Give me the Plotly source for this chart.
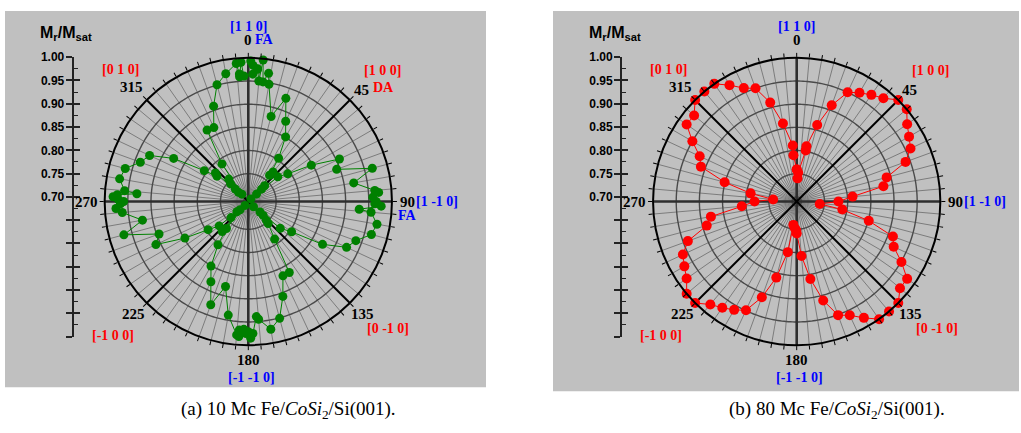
import math
import plotly.graph_objects as go

W, H = 1021, 433

# Remanence ratio Mr/Msat versus in-plane field angle (degrees, clockwise from [1 1 0])
# 10 monolayer Fe film
theta_10mc = [1, 2, 2, 4, 4, 5, 6, 7, 9, 10, 15, 20, 25, 30, 35, 39, 40, 45, 46, 47, 48, 50,
              55, 60, 65, 70, 75, 80, 85, 86, 88, 90, 91, 92, 94, 95, 100, 105, 110, 115, 120,
              125, 130, 132, 133, 135, 136, 138, 145, 150, 155, 160, 165, 170, 175, 176, 178,
              179, 180, 181, 182, 184, 184, 185, 190, 195, 200, 205, 210, 215, 219, 220, 221,
              225, 227, 228, 230, 235, 240, 245, 250, 255, 260, 265, 267, 269, 270, 271, 272,
              273, 274, 275, 280, 285, 290, 295, 300, 305, 309, 311, 313, 314, 315, 319, 319,
              325, 330, 335, 340, 345, 350, 355, 356, 356, 357, 358]
mr_10mc = [0.993, 0.984, 0.965, 0.977, 0.976, 0.951, 0.997, 0.950, 0.970, 0.947, 0.880, 0.927,
           0.881, 0.851, 0.804, 0.763, 0.773, 0.698, 0.739, 0.729, 0.714, 0.773, 0.794, 0.847,
           0.907, 0.893, 0.967, 0.921, 0.964, 0.972, 0.959, 0.966, 0.963, 0.977, 0.930, 0.956,
           0.972, 0.965, 0.937, 0.924, 0.875, 0.804, 0.780, 0.724, 0.734, 0.706, 0.746, 0.754,
           0.789, 0.867, 0.867, 0.908, 0.951, 0.970, 0.945, 0.939, 0.975, 0.985, 0.971, 0.975,
           0.966, 0.968, 0.982, 0.979, 0.939, 0.880, 0.927, 0.881, 0.851, 0.804, 0.765, 0.701,
           0.776, 0.715, 0.741, 0.723, 0.772, 0.796, 0.848, 0.910, 0.895, 0.968, 0.922, 0.963,
           0.976, 0.966, 0.959, 0.971, 0.982, 0.973, 0.931, 0.958, 0.972, 0.965, 0.938, 0.925,
           0.876, 0.806, 0.777, 0.784, 0.719, 0.729, 0.744, 0.754, 0.711, 0.789, 0.868, 0.866,
           0.909, 0.951, 0.970, 0.989, 0.966, 0.960, 0.991, 0.961]

# 80 monolayer Fe film
theta_80mc = [0, 2, 3, 10, 10, 15, 20, 25, 30, 35, 40, 45, 50, 55, 60, 65, 70, 75, 80, 85, 90,
              96, 100, 105, 110, 115, 120, 125, 130, 135, 140, 145, 150, 155, 160, 165, 170,
              175, 180, 181, 184, 188, 190, 195, 200, 205, 210, 215, 220, 225, 230, 235, 240,
              245, 250, 255, 260, 265, 270, 275, 280, 285, 290, 295, 300, 305, 310, 315, 320,
              325, 330, 335, 340, 345, 350, 356, 356, 360]
mr_80mc = [0.759, 0.740, 0.752, 0.802, 0.811, 0.861, 0.911, 0.950, 0.961, 0.971, 0.981, 1.000,
           1.000, 0.981, 0.970, 0.961, 0.940, 0.891, 0.880, 0.811, 0.780, 0.740, 0.790, 0.851,
           0.911, 0.921, 0.951, 0.981, 0.981, 1.000, 1.000, 1.000, 0.980, 0.961, 0.951, 0.911,
           0.860, 0.808, 0.759, 0.752, 0.748, 0.741, 0.801, 0.860, 0.910, 0.949, 0.960, 0.970,
           0.980, 1.000, 1.000, 0.980, 0.970, 0.961, 0.940, 0.891, 0.878, 0.809, 0.781, 0.741,
           0.791, 0.851, 0.910, 0.921, 0.950, 0.980, 0.979, 1.000, 1.000, 1.000, 0.980, 0.960,
           0.950, 0.911, 0.861, 0.811, 0.790, 0.759]

angle_labels = [0, 45, 90, 135, 180, 225, 270, 315]
radial_circles = [0.70, 0.75, 0.80, 0.85, 0.90, 0.95]
scale_ticks = [0.40, 0.45, 0.50, 0.55, 0.60, 0.65, 0.70, 0.75, 0.80, 0.85, 0.90, 0.95, 1.00]
scale_labels = [0.70, 0.75, 0.80, 0.85, 0.90, 0.95, 1.00]

captions = ["(a) 10 Mc Fe/<i>CoSi</i><sub>2</sub>/Si(001).",
            "(b) 80 Mc Fe/<i>CoSi</i><sub>2</sub>/Si(001)."]

# ---- geometry (pixels) ----
R_MIN, R_MAX = 0.69, 1.00
RAD = 146.0
CENTERS = [(248.3, 197.7), (796.7, 197.7)]
PANELS = [(5, 4, 486, 386.5), (553, 4, 1019, 390.5)]
SCALE_DX = -175.6            # scale bar position relative to polar centre
SCALE_TOP, SCALE_BOT = 51.0, 335.0

GRAY = "#c0c0c0"
BLUE = "#0000ff"
RED = "#ff0000"
SERIF = "Liberation Serif"
SANS = "Liberation Sans"


def paper(x, y):
    return x / W, 1 - y / H


fig = go.Figure()
shapes, annotations = [], []

series = [(theta_10mc, mr_10mc, "#008000", 9), (theta_80mc, mr_80mc, RED, 10)]
axis_ids = [("y", "y2", "y3"), ("y4", "y5", "y6")]
ring_theta = list(range(0, 361, 1))

for i, (cx, cy) in enumerate(CENTERS):
    pname = "polar" if i == 0 else "polar2"
    x0, y0, x1, y1 = PANELS[i]
    shapes.append(dict(type="rect", xref="paper", yref="paper", layer="below",
                       x0=x0 / W, x1=x1 / W, y0=1 - y1 / H, y1=1 - y0 / H,
                       fillcolor=GRAY, line=dict(width=0)))

    fig.update_layout(**{pname: dict(
        domain=dict(x=[(cx - RAD) / W, (cx + RAD) / W],
                    y=[1 - (cy + RAD) / H, 1 - (cy - RAD) / H]),
        bgcolor="rgba(0,0,0,0)",
        angularaxis=dict(rotation=90, direction="clockwise",
                         tickmode="array", tickvals=list(range(0, 360, 5)),
                         showticklabels=False, ticks="outside", ticklen=4,
                         tickcolor="black", tickwidth=1,
                         showline=True, linecolor="black", linewidth=2,
                         gridcolor="#7c7c7c", gridwidth=1),
        radialaxis=dict(range=[R_MIN, R_MAX], showgrid=False, showticklabels=False,
                        ticks="", showline=False),
    )})

    # concentric Mr/Msat circles
    ring_r, ring_t = [], []
    for v in radial_circles:
        ring_r += [v] * len(ring_theta) + [None]
        ring_t += ring_theta + [None]
    fig.add_trace(go.Scatterpolar(r=ring_r, theta=ring_t, mode="lines", subplot=pname,
                                  line=dict(color="#4a4a4a", width=1.4),
                                  hoverinfo="skip", showlegend=False))

    # principal axes ([1 1 0] family) and diagonals ([1 0 0] family)
    main_r, main_t, diag_r, diag_t = [], [], [], []
    for a in angle_labels:
        if a % 90 == 0:
            main_r += [R_MIN, R_MAX, None]
            main_t += [a, a, None]
        else:
            diag_r += [R_MIN, R_MAX, None]
            diag_t += [a, a, None]
    fig.add_trace(go.Scatterpolar(r=main_r, theta=main_t, mode="lines", subplot=pname,
                                  line=dict(color="#2e2e2e", width=2.6),
                                  hoverinfo="skip", showlegend=False))
    fig.add_trace(go.Scatterpolar(r=diag_r, theta=diag_t, mode="lines", subplot=pname,
                                  line=dict(color="black", width=2),
                                  hoverinfo="skip", showlegend=False))

    th, rv, col, ms = series[i]
    fig.add_trace(go.Scatterpolar(r=rv, theta=th, mode="lines+markers", subplot=pname,
                                  line=dict(color=col, width=1),
                                  marker=dict(color=col, size=ms),
                                  cliponaxis=False, showlegend=False))

    # angle labels
    label_dist = {0: 164.5, 45: 160, 90: 159, 135: 161.5, 180: 160.6, 225: 162, 270: 162, 315: 164.5}
    for a in angle_labels:
        d = label_dist[a]
        ax = cx + d * math.sin(math.radians(a))
        ay = cy - d * math.cos(math.radians(a))
        px, py = paper(ax, ay)
        annotations.append(dict(x=px, y=py, xref="paper", yref="paper", showarrow=False,
                                text=f"<b>{a}</b>", xanchor="center", yanchor="middle",
                                font=dict(family=SERIF, size=15, color="black")))

    # crystallographic directions
    directions = [("[1 1 0]", BLUE, 0, -178), ("[1 0 0]", RED, 134, -133),
                  ("[1 -1 0]", BLUE, 188.5, 0.5), ("[0 -1 0]", RED, 140, 129.5),
                  ("[-1 -1 0]", BLUE, 3, 178.5), ("[-1 0 0]", RED, -135.3, 136),
                  ("[0 1 0]", RED, -128, -134.5)]
    if i == 0:
        directions += [("FA", BLUE, 16, -164.7), ("DA", RED, 135, -116), ("FA", BLUE, 159, 14.5)]
    for txt, col, dx, dy in directions:
        px, py = paper(cx + dx, cy + dy)
        annotations.append(dict(x=px, y=py, xref="paper", yref="paper", showarrow=False,
                                text=f"<b>{txt}</b>", xanchor="center", yanchor="middle",
                                font=dict(family=SERIF, size=14, color=col)))

    # Mr/Msat scale bar: outer ticks, inner ticks (+ minor), labels
    sx = cx + SCALE_DX
    ydom = [1 - SCALE_BOT / H, 1 - SCALE_TOP / H]
    yo, yi, yl = axis_ids[i]
    rng = [scale_ticks[0], scale_ticks[-1]]
    common = dict(domain=ydom, range=rng, anchor="free", position=sx / W, side="left",
                  showgrid=False, zeroline=False)
    fig.update_layout(**{
        "yaxis" + yo[1:]: dict(**common, tickmode="array", tickvals=scale_ticks,
                               showticklabels=False, ticks="outside", ticklen=6,
                               tickwidth=1.5, tickcolor="#222", showline=True,
                               linecolor="#222", linewidth=1.5),
        "yaxis" + yi[1:]: dict(**common, overlaying=yo, tickmode="array",
                               tickvals=scale_ticks, showticklabels=False, ticks="inside",
                               ticklen=6, tickwidth=1.5, tickcolor="#222", showline=False,
                               minor=dict(tickmode="array",
                                          tickvals=[v + 0.025 for v in scale_ticks[:-1]],
                                          ticks="inside", ticklen=4, tickwidth=1.2,
                                          tickcolor="#222")),
        "yaxis" + yl[1:]: dict(**common, overlaying=yo, tickmode="array",
                               tickvals=scale_labels, ticktext=[f"{v:.2f}" for v in scale_labels],
                               ticks="outside", ticklen=6, tickcolor="rgba(0,0,0,0)",
                               showline=False,
                               tickfont=dict(family=SANS, size=12, color="black",
                                             weight="bold")),
    })
    for yid in (yo, yi, yl):
        fig.add_trace(go.Scatter(x=[], y=[], xaxis="x", yaxis=yid, showlegend=False,
                                 hoverinfo="skip"))

    px, py = paper(cx - 182, 27)
    annotations.append(dict(x=px, y=py, xref="paper", yref="paper", showarrow=False,
                            text="<b>M<sub>r</sub>/M<sub>sat</sub></b>",
                            xanchor="center", yanchor="middle",
                            font=dict(family=SANS, size=16, color="black")))

    # caption
    px, py = paper(cx + 40, 410)
    annotations.append(dict(x=px, y=py, xref="paper", yref="paper", showarrow=False,
                            text=captions[i], xanchor="center", yanchor="middle",
                            font=dict(family=SERIF, size=19, color="black")))

fig.update_layout(
    width=W, height=H, margin=dict(l=0, r=0, t=0, b=0),
    paper_bgcolor="white", plot_bgcolor="rgba(0,0,0,0)",
    xaxis=dict(visible=False, range=[0, 1], domain=[0, 1]),
    shapes=shapes, annotations=annotations, showlegend=False,
)

fig.write_html("out.html")
